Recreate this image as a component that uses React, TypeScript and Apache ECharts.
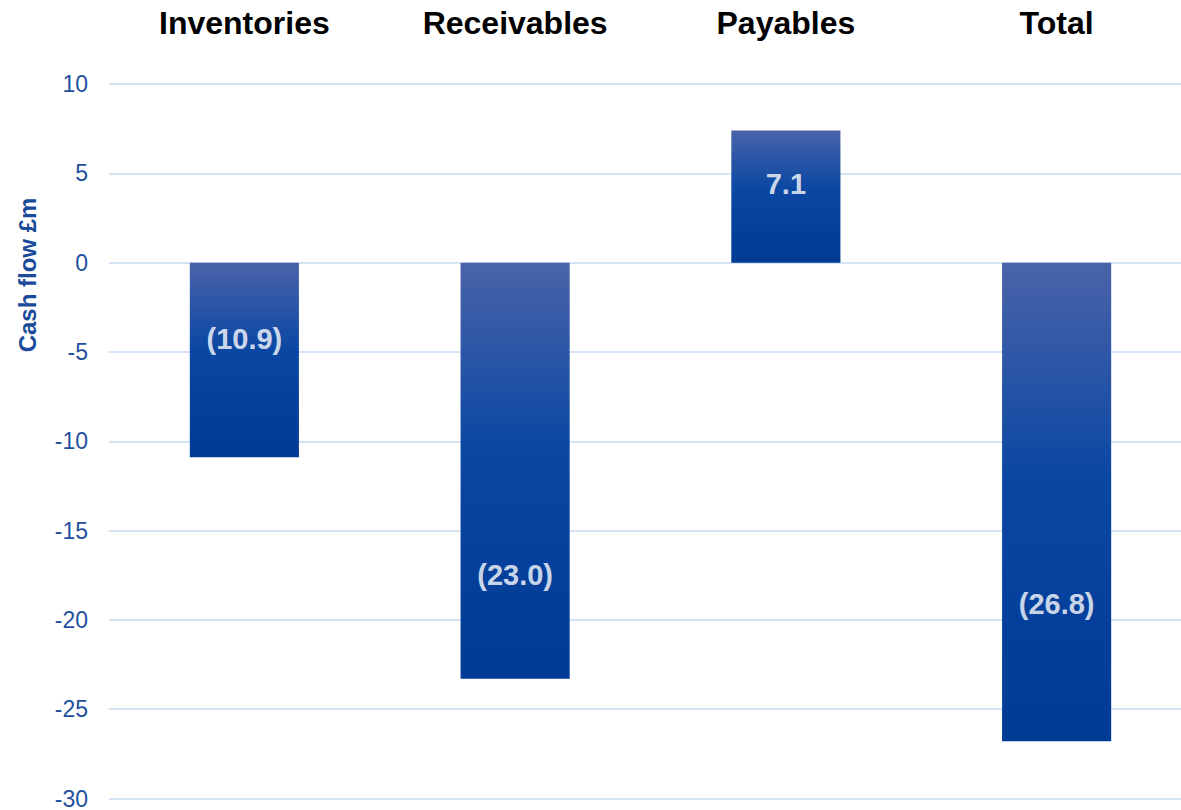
import React, { useEffect, useRef } from "react";
import * as echarts from "echarts";

const categories = ["Inventories", "Receivables", "Payables", "Total"];
const barValues = [-10.9, -23.3, 7.4, -26.8];
const labelTexts = ["(10.9)", "(23.0)", "7.1", "(26.8)"];
const labelLevels = [-4.3, -17.5, 4.4, -19.1];
const yTicks = { min: -30, max: 10, interval: 5 };

export default function App() {
  const ref = useRef<HTMLDivElement>(null);
  useEffect(() => {
    if (!ref.current) return;
    const chart = echarts.init(ref.current, null, { renderer: "svg" });
    chart.setOption({
      animation: false,
      backgroundColor: "#ffffff",
      grid: { left: 109, right: 0, top: 84, bottom: 10, containLabel: false },
      xAxis: {
        type: "category",
        data: categories,
        position: "top",
        axisLine: { show: false, onZero: false },
        axisTick: { show: false },
        axisLabel: {
          color: "#000000",
          fontSize: 32,
          fontWeight: "bold",
          fontFamily: "Liberation Sans, Arial, sans-serif",
          margin: 45,
        },
        splitLine: { show: false },
      },
      yAxis: {
        type: "value",
        min: yTicks.min,
        max: yTicks.max,
        interval: yTicks.interval,
        axisLine: { show: false },
        axisTick: { show: false },
        axisLabel: {
          color: "#1f50a0",
          fontSize: 23,
          fontFamily: "Liberation Sans, Arial, sans-serif",
          margin: 21,
        },
        splitLine: { lineStyle: { color: "#d5e3f7", width: 2 } },
      },
      graphic: [
        {
          type: "text",
          x: 27,
          y: 275,
          rotation: Math.PI / 2,
          style: {
            text: "Cash flow £m",
            fill: "#1a4a9a",
            font: "bold 24px 'Liberation Sans', Arial, sans-serif",
            textAlign: "center",
            textVerticalAlign: "middle",
          },
        },
      ],
      series: [
        {
          type: "bar",
          data: barValues,
          barWidth: "40.3%",
          itemStyle: {
            color: new echarts.graphic.LinearGradient(0, 0, 0, 1, [
              { offset: 0, color: "#4a63a9" },
              { offset: 0.45, color: "#0a47a3" },
              { offset: 1, color: "#003b95" },
            ]),
          },
          label: { show: false },
        },
        {
          type: "scatter",
          data: labelLevels,
          symbolSize: 0,
          silent: true,
          itemStyle: { color: "#0a47a3" },
          label: {
            show: true,
            position: "inside",
            formatter: (p: any) => labelTexts[p.dataIndex],
            color: "#ffffff",
            textBorderWidth: 0,
            textBorderColor: "transparent",
            fontSize: 29,
            fontWeight: "bold",
            fontFamily: "Liberation Sans, Arial, sans-serif",
          },
        },
      ],
    });
    return () => chart.dispose();
  }, []);
  return (
    <div
      style={{
        position: "absolute",
        left: 0,
        top: 0,
        width: 1181,
        height: 810,
        overflow: "hidden",
      }}
    >
      <div ref={ref} style={{ width: 1192, height: 810 }} />
    </div>
  );
}
